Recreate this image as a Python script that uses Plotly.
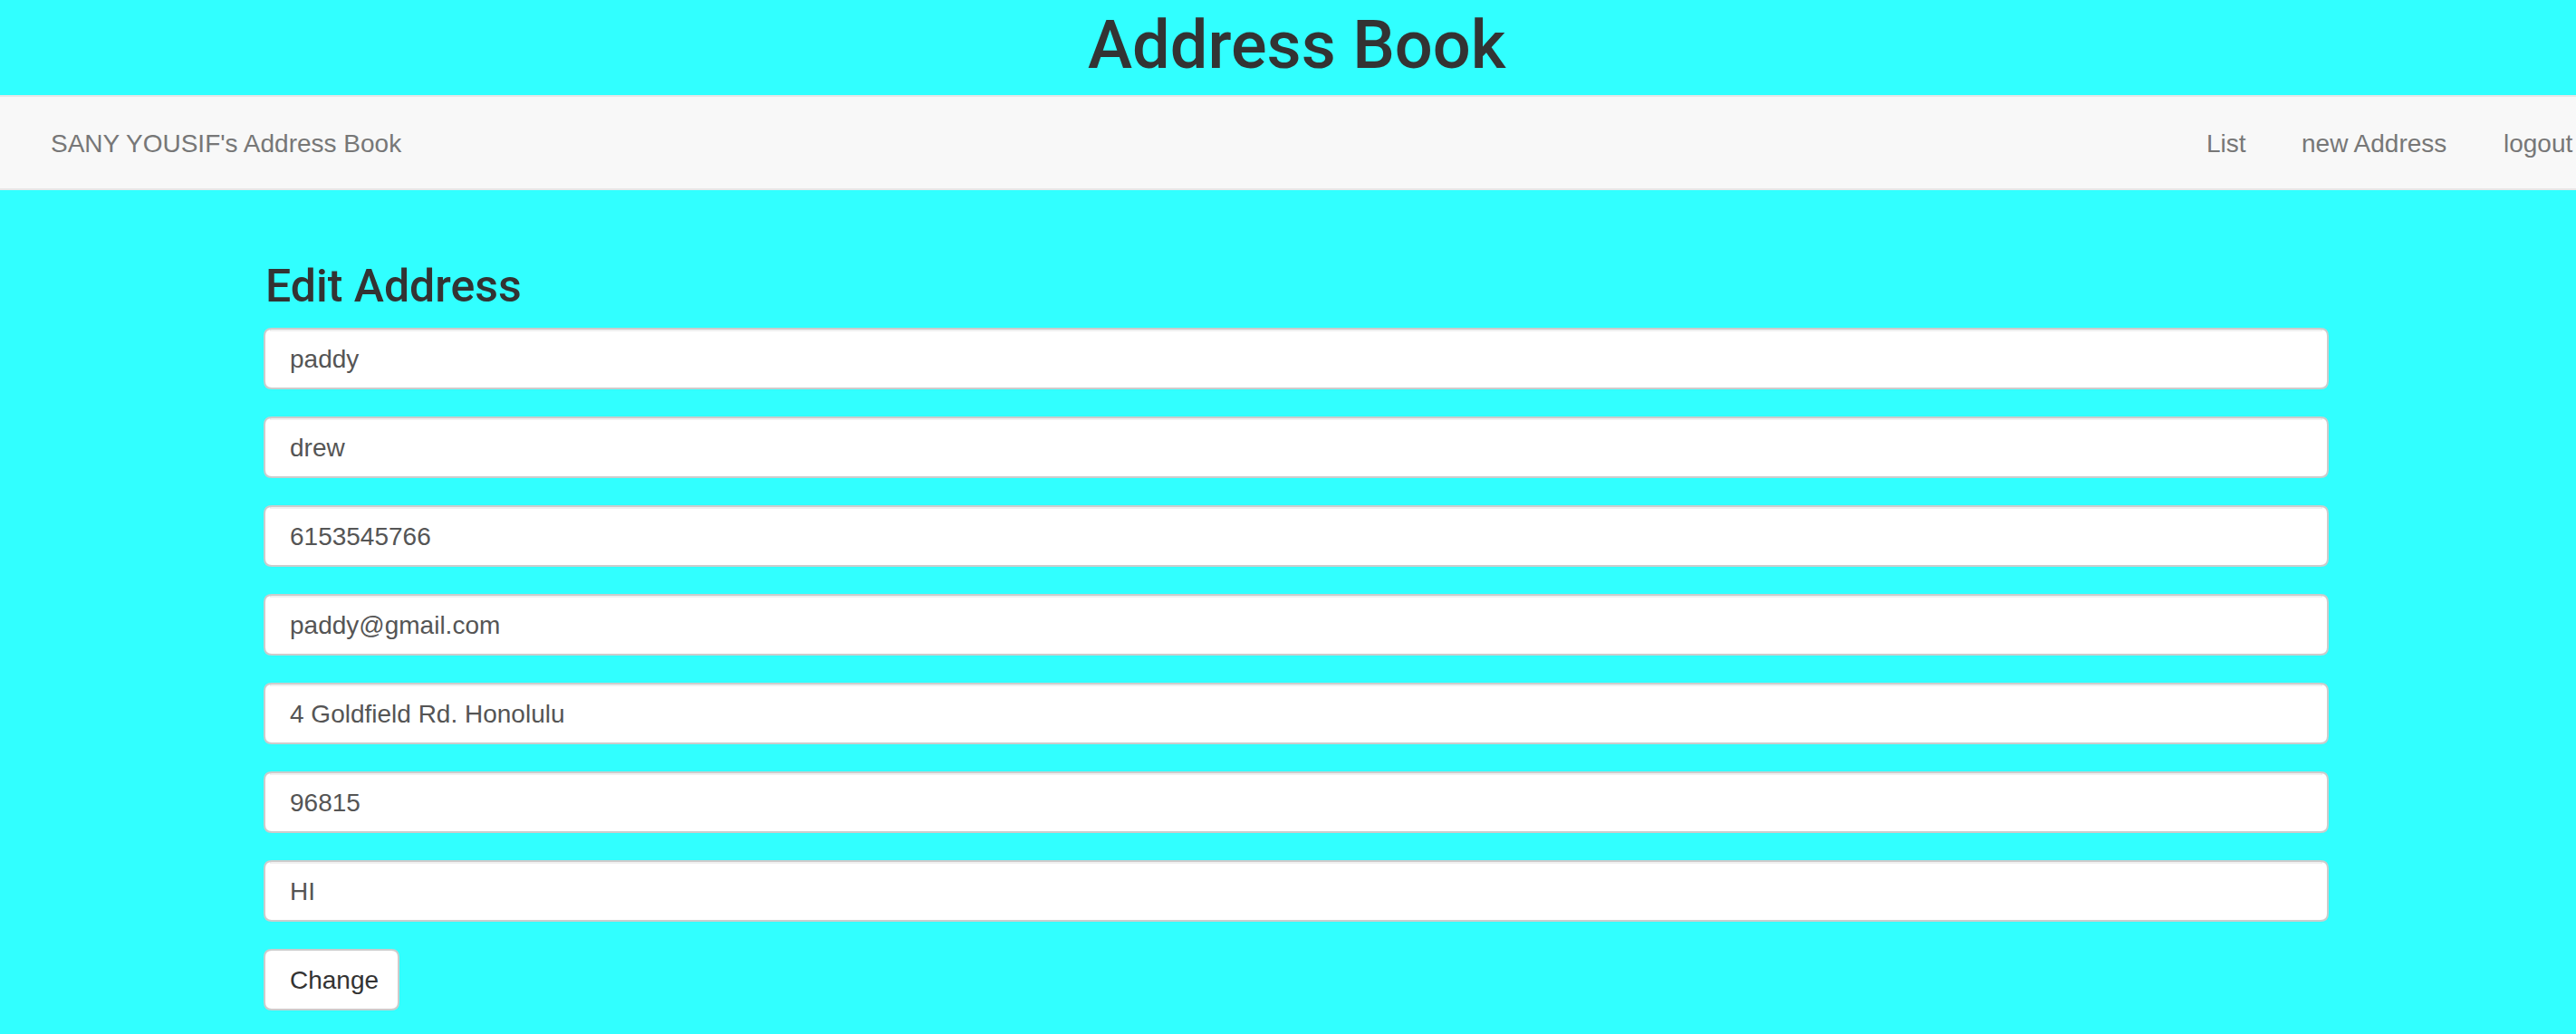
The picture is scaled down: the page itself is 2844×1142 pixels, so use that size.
import plotly.graph_objects as go

# === Тексты страницы ===
page_title = "Address Book"
brand = "SANY YOUSIF's Address Book"
nav_links = ["List", "new Address", "logout"]
form_heading = "Edit Address"
field_values = [
    "paddy",
    "drew",
    "6153545766",
    "paddy@gmail.com",
    "4 Goldfield Rd. Honolulu",
    "96815",
    "HI",
]
button_label = "Change"

# === Раскладка (пиксели) ===
W, H = 2844, 1142
BG = "#31ffff"
FONT = "Liberation Sans, Arial, sans-serif"
HEAD_FONT = "Roboto, Liberation Sans, Arial, sans-serif"
NAV_TOP, NAV_BOTTOM = 106, 209
NAV_LINK_X = [2434, 2539, 2762]
FIELD_LEFT, FIELD_RIGHT = 292, 2570
FIELD_TOP, FIELD_STEP, FIELD_H = 363, 98, 66
BTN_LEFT, BTN_RIGHT, BTN_TOP, BTN_BOTTOM = 292, 440, 1049, 1115


def rounded(x0, y0, x1, y1, r):
    return (f"M{x0 + r},{y0} L{x1 - r},{y0} Q{x1},{y0} {x1},{y0 + r} "
            f"L{x1},{y1 - r} Q{x1},{y1} {x1 - r},{y1} L{x0 + r},{y1} "
            f"Q{x0},{y1} {x0},{y1 - r} L{x0},{y0 + r} Q{x0},{y0} {x0 + r},{y0} Z")


fig = go.Figure()
shapes = []
annotations = []

# === Навбар ===
shapes.append(dict(type="rect", x0=-5, x1=W + 5, y0=NAV_TOP, y1=NAV_BOTTOM,
                   fillcolor="#f8f8f8", line=dict(color="#e7e7e7", width=2), layer="below"))

annotations.append(dict(x=1432, y=49, text=page_title, xanchor="center", yanchor="middle",
                        font=dict(family=HEAD_FONT, size=74, color="#333333", weight=500)))
annotations.append(dict(x=54, y=158, text=brand, xanchor="left", yanchor="middle",
                        font=dict(family=FONT, size=28, color="#777777")))
for label, lx in zip(nav_links, NAV_LINK_X):
    annotations.append(dict(x=lx, y=158, text=label, xanchor="left", yanchor="middle",
                            font=dict(family=FONT, size=28, color="#777777")))

# === Форма ===
annotations.append(dict(x=291, y=316, text=form_heading, xanchor="left", yanchor="middle",
                        font=dict(family=HEAD_FONT, size=50, color="#333333", weight=500)))

for i, value in enumerate(field_values):
    top = FIELD_TOP + i * FIELD_STEP
    bottom = top + FIELD_H
    shapes.append(dict(type="path", path=rounded(FIELD_LEFT, top, FIELD_RIGHT, bottom, 8),
                       fillcolor="white", line=dict(color="#cccccc", width=2), layer="below"))
    shapes.append(dict(type="line", x0=FIELD_LEFT + 6, x1=FIELD_RIGHT - 6, y0=top + 2, y1=top + 2,
                       line=dict(color="rgba(0,0,0,0.06)", width=2), layer="below"))
    annotations.append(dict(x=318, y=top + FIELD_H / 2, text=value, xanchor="left", yanchor="middle",
                            font=dict(family=FONT, size=28, color="#555555")))

shapes.append(dict(type="path", path=rounded(BTN_LEFT, BTN_TOP, BTN_RIGHT, BTN_BOTTOM, 8),
                   fillcolor="white", line=dict(color="#cccccc", width=2), layer="below"))
annotations.append(dict(x=318, y=(BTN_TOP + BTN_BOTTOM) / 2, text=button_label, xanchor="left",
                        yanchor="middle", font=dict(family=FONT, size=28, color="#333333")))

for a in annotations:
    a.update(xref="x", yref="y", showarrow=False)

# === Оформление ===
fig.update_layout(
    width=W,
    height=H,
    margin=dict(l=0, r=0, t=0, b=0),
    paper_bgcolor=BG,
    plot_bgcolor=BG,
    shapes=shapes,
    annotations=annotations,
    showlegend=False,
    xaxis=dict(range=[0, W], visible=False, fixedrange=True),
    yaxis=dict(range=[H, 0], visible=False, fixedrange=True),
)

fig.write_html("out.html", config={"displayModeBar": False},
               post_script="document.body.style.margin='0';document.body.style.overflow='hidden';")
